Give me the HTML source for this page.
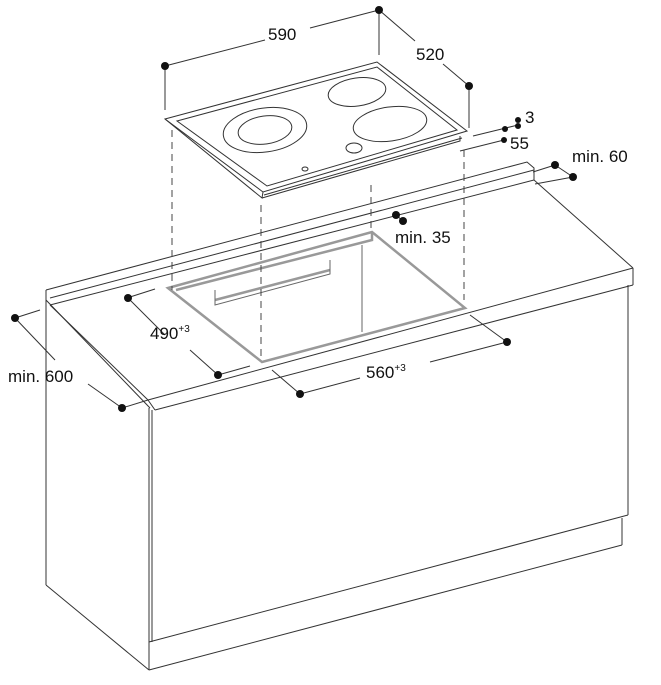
<!DOCTYPE html>
<html><head><style>
html,body{margin:0;padding:0;background:#fff;}
svg{display:block;}
text{font-family:"Liberation Sans",Arial,sans-serif;font-size:17px;fill:#111;}
</style></head><body>
<svg width="661" height="685" viewBox="0 0 661 685" xmlns="http://www.w3.org/2000/svg">
<g fill="none" stroke="#333" stroke-width="1">
<polyline points="46,290 527,162 534,168 534,180"/>
<line x1="50" y1="298" x2="534" y2="170"/>
<line x1="46" y1="290" x2="46" y2="300"/>
<line x1="50" y1="305" x2="534" y2="180"/>
<line x1="534" y1="180" x2="633" y2="268"/>
<line x1="633" y1="268" x2="633" y2="285"/>
<line x1="148" y1="400" x2="633" y2="268"/>
<line x1="155" y1="410" x2="633" y2="285"/>
<line x1="50" y1="305" x2="148" y2="400"/>
<line x1="46" y1="300" x2="150" y2="408"/>
<line x1="148" y1="400" x2="155" y2="410"/>
<line x1="46" y1="300" x2="46" y2="585"/>
<line x1="46" y1="585" x2="149" y2="670"/>
<line x1="149" y1="408" x2="149" y2="670"/>
<line x1="152" y1="410" x2="152" y2="642"/>
<line x1="628" y1="285" x2="628" y2="515"/>
<line x1="149" y1="642" x2="628" y2="515"/>
<line x1="149" y1="670" x2="622" y2="545"/>
<line x1="622" y1="518" x2="622" y2="545"/>
</g>
<g fill="none" stroke="#999" stroke-width="2.5">
<polygon points="168,288 372,232 465,308 262,362"/>
<polyline points="176,290 372,240 372,232"/>
<line x1="215" y1="300" x2="330" y2="270"/>
</g>
<g fill="none" stroke="#666" stroke-width="1">
<line x1="362" y1="245" x2="362" y2="332"/>
<polyline points="215,290 215,305 330,274 330,260"/>
</g>
<g fill="none" stroke="#333" stroke-width="1">
<polygon points="165,119 377,62 467,131 263,192"/>
<polygon points="177,121 377,67 457,130 267,186"/>
<polyline points="165,119 262,198 263,192"/>
<polyline points="262,198 460,141 460,136"/>
<line x1="264" y1="195" x2="462" y2="138"/>
<ellipse cx="265" cy="130" rx="42" ry="22" transform="rotate(-8 265 130)"/>
<ellipse cx="265" cy="130" rx="27" ry="14" transform="rotate(-8 265 130)"/>
<ellipse cx="357" cy="92" rx="29" ry="14" transform="rotate(-8 357 92)"/>
<ellipse cx="390" cy="124" rx="37" ry="17" transform="rotate(-8 390 124)"/>
<ellipse cx="354" cy="148" rx="8" ry="5"/>
<ellipse cx="305" cy="169" rx="3" ry="2"/>
</g>
<g stroke="#333" stroke-width="1" fill="none">
<line x1="165" y1="66" x2="265" y2="40"/><line x1="310" y1="28" x2="379" y2="10"/>
<line x1="379" y1="10" x2="415" y2="41"/><line x1="443" y1="64" x2="469" y2="86"/>
<line x1="165" y1="66" x2="165" y2="110"/>
<line x1="379" y1="10" x2="379" y2="55"/>
<line x1="469" y1="86" x2="469" y2="128"/>
<line x1="473" y1="136" x2="518" y2="125"/>
<line x1="460" y1="151" x2="504" y2="140"/>
<line x1="533" y1="172" x2="555" y2="165"/><line x1="555" y1="165" x2="573" y2="177"/><line x1="535" y1="184" x2="573" y2="177"/>
<line x1="396" y1="215" x2="403" y2="221"/>
<line x1="130" y1="297" x2="155" y2="289"/>
<line x1="128" y1="298" x2="165" y2="335"/><line x1="190" y1="350" x2="218" y2="375"/><line x1="218" y1="375" x2="250" y2="366"/>
<line x1="300" y1="394" x2="360" y2="378"/><line x1="430" y1="362" x2="507" y2="342"/>
<line x1="470" y1="315" x2="507" y2="342"/><line x1="272" y1="370" x2="300" y2="394"/>
<line x1="15" y1="318" x2="40" y2="310"/><line x1="15" y1="318" x2="55" y2="360"/><line x1="88" y1="384" x2="122" y2="408"/><line x1="122" y1="408" x2="148" y2="400"/>
</g>
<g stroke="#444" stroke-width="1" stroke-dasharray="7,5" fill="none">
<line x1="172" y1="130" x2="172" y2="290"/>
<line x1="261" y1="205" x2="261" y2="360"/>
<line x1="371" y1="185" x2="371" y2="232"/>
<line x1="464" y1="150" x2="464" y2="300"/>
</g>
<g fill="#111">
<circle cx="165" cy="66" r="4"/><circle cx="379" cy="10" r="4"/><circle cx="469" cy="86" r="4"/>
<circle cx="518" cy="120" r="3"/><circle cx="518" cy="126" r="3"/><circle cx="505" cy="129" r="3"/><circle cx="504" cy="140" r="3"/>
<circle cx="555" cy="165" r="4"/><circle cx="573" cy="177" r="4"/>
<circle cx="396" cy="215" r="4"/><circle cx="403" cy="221" r="4"/>
<circle cx="128" cy="298" r="4"/><circle cx="218" cy="375" r="4"/>
<circle cx="300" cy="394" r="4"/><circle cx="507" cy="342" r="4"/>
<circle cx="15" cy="318" r="4"/><circle cx="122" cy="408" r="4"/>
</g>
<text x="268" y="40">590</text>
<text x="416" y="60">520</text>
<text x="525" y="123">3</text>
<text x="510" y="149">55</text>
<text x="572" y="162">min. 60</text>
<text x="395" y="243">min. 35</text>
<text x="150" y="339">490<tspan font-size="10" dy="-7">+3</tspan></text>
<text x="366" y="378">560<tspan font-size="10" dy="-7">+3</tspan></text>
<text x="8" y="382">min. 600</text>
</svg>
</body></html>
